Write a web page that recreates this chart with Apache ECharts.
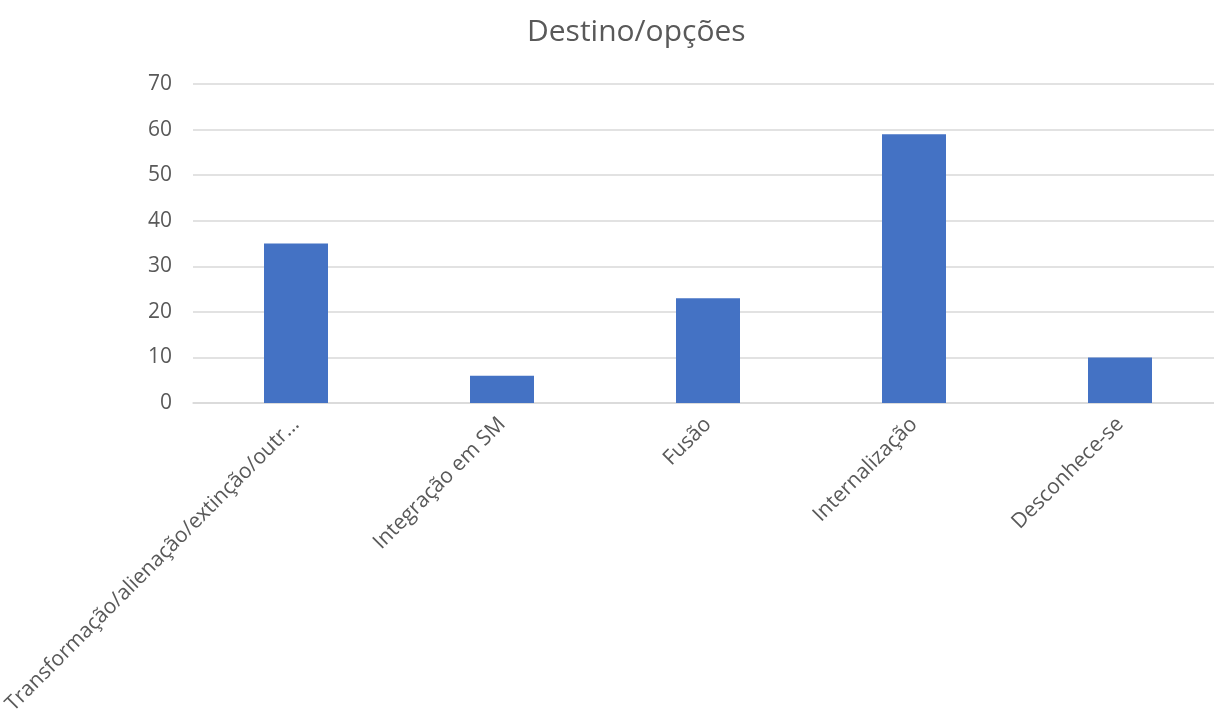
<!DOCTYPE html>
<html>
<head>
<meta charset="utf-8">
<script src="https://cdn.jsdelivr.net/npm/echarts@6/dist/echarts.min.js"></script>
<style>
html,body{margin:0;padding:0;background:#fff;}
#chart{width:1214px;height:709px;}
</style>
</head>
<body>
<div id="chart"></div>
<script>
const title = "Destino/opções";
const categories = ["Transformação/alienação/extinção/outr...", "Integração em SM", "Fusão", "Internalização", "Desconhece-se"];
const values = [35, 6, 23, 59, 10];
const yTicks = { min: 0, max: 70, interval: 10 };

const chart = echarts.init(document.getElementById('chart'), null, { renderer: 'canvas' });
const font = '"Open Sans", "Noto Sans", sans-serif';
chart.setOption({
  animation: false,
  backgroundColor: '#ffffff',
  title: {
    text: title,
    left: 522,
    top: 12,
    textStyle: { fontFamily: font, fontSize: 30, fontWeight: 'normal', color: '#595959' }
  },
  grid: { left: 193, top: 84, width: 1030, height: 319, containLabel: false, outerBoundsMode: 'none' },
  xAxis: {
    type: 'category',
    data: categories,
    axisLine: { show: true, lineStyle: { color: '#d9d9d9', width: 1.5 } },
    axisTick: { show: false },
    axisLabel: { rotate: 45, margin: 18, interval: 0, fontFamily: font, fontSize: 21, color: '#595959', padding: [0, 0, 0, 0] }
  },
  yAxis: {
    type: 'value',
    min: yTicks.min, max: yTicks.max, interval: yTicks.interval,
    axisLine: { show: false },
    axisTick: { show: false },
    splitLine: { lineStyle: { color: '#d9d9d9', width: 1.5 } },
    axisLabel: { margin: 21, fontFamily: font, fontSize: 21, color: '#595959' }
  },
  series: [{
    type: 'bar',
    data: values,
    barWidth: 64,
    itemStyle: { color: '#4472C4' }
  }]
});
</script>
</body>
</html>
